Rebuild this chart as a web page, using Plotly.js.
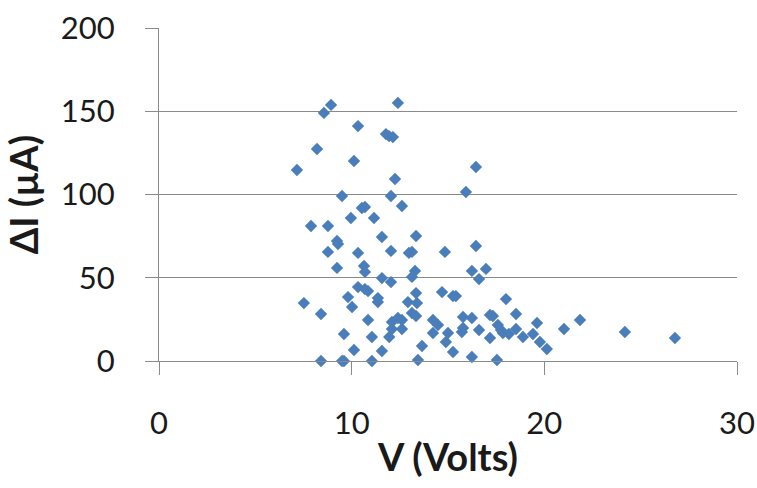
<!DOCTYPE html>
<html>
<head>
<meta charset="utf-8">
<script src="https://cdn.plot.ly/plotly-3.0.1.min.js"></script>
<style>html,body{margin:0;padding:0;background:#fff;}#chart{width:757px;height:488px;}</style>
</head>
<body>
<div id="chart"></div>
<script>
const vVolts = [8.93, 8.56, 10.33, 11.78, 11.94, 12.14, 12.40, 8.20, 10.12, 7.16,
  12.25, 16.45, 15.93, 9.50, 12.04, 12.61, 10.53, 10.69, 9.96, 11.16,
  7.89, 8.77, 11.57, 13.34, 9.24, 9.29, 16.45, 8.77, 10.33, 12.04,
  12.97, 13.13, 14.84, 9.24, 10.64, 10.69, 13.29, 16.24, 16.97, 11.57,
  12.04, 13.13, 16.61, 10.33, 10.69, 10.85, 13.34, 14.69, 15.26, 15.41,
  18.01, 9.81, 11.36, 11.36, 7.52, 10.02, 12.92, 13.39, 8.41, 13.13,
  13.34, 10.85, 12.40, 12.61, 12.09, 14.22, 14.48, 15.78, 16.24, 17.18,
  17.33, 18.53, 19.62, 12.09, 12.61, 14.22, 15.00, 15.72, 15.78, 16.61,
  17.59, 17.75, 17.85, 18.16, 18.53, 18.89, 19.41, 19.77, 20.13, 21.02,
  21.85, 24.18, 26.78, 9.60, 11.05, 11.95, 17.18, 14.89, 13.65, 10.12,
  11.57, 15.26, 16.24, 13.44, 17.54, 8.41, 9.50, 9.60, 11.05];
const dI = [153.8, 149.0, 141.1, 136.3, 135.1, 134.5, 155.0, 127.3, 120.1, 114.7,
  109.3, 116.5, 101.5, 99.1, 99.1, 93.1, 91.9, 92.5, 85.9, 85.9,
  81.1, 81.1, 74.5, 75.1, 72.1, 70.3, 69.1, 65.5, 64.9, 66.1,
  64.9, 65.5, 65.5, 55.9, 57.1, 53.5, 54.1, 54.1, 55.3, 49.8,
  47.4, 50.5, 49.2, 44.4, 43.2, 42.0, 40.8, 41.4, 39.0, 39.0,
  37.2, 38.4, 37.8, 35.4, 34.8, 32.4, 35.4, 34.8, 28.2, 28.8,
  27.0, 24.6, 25.8, 24.6, 23.4, 24.6, 21.6, 26.4, 25.8, 27.6,
  27.0, 28.2, 22.8, 19.2, 19.2, 16.8, 16.8, 17.4, 19.8, 18.6,
  21.6, 18.6, 16.8, 16.2, 19.2, 14.4, 16.2, 11.4, 7.2, 19.2,
  24.6, 17.4, 13.8, 16.2, 14.4, 14.4, 13.8, 11.4, 9.0, 6.6,
  6.0, 5.4, 2.4, 0.6, 0.6, 0, 0, 0, 0];
const xTicks = [0, 10, 20, 30];
const yTicks = [0, 50, 100, 150, 200];

const gray = '#8a8a8a';
const trace = {
  x: vVolts, y: dI, type: 'scatter', mode: 'markers', cliponaxis: false,
  marker: {symbol: 'diamond', size: 9.5, color: '#4a7ebb', line: {width: 0}},
  hoverinfo: 'x+y'
};
const layout = {
  width: 757, height: 488,
  margin: {l: 159, r: 20, t: 28, b: 127},
  paper_bgcolor: '#fff', plot_bgcolor: '#fff',
  showlegend: false,
  font: {family: 'Lato, "Open Sans", sans-serif', color: '#1a1a1a'},
  xaxis: {
    range: [0, 30], tickvals: xTicks, ticktext: xTicks.map(String),
    showgrid: false, zeroline: false,
    showline: true, linecolor: gray, linewidth: 1,
    ticks: 'outside', ticklen: 13, tickcolor: gray, tickwidth: 1,
    tickfont: {size: 31, family: 'Lato, sans-serif', color: '#1a1a1a'},
    ticklabelstandoff: 22,
    title: {text: 'V (Volts)', standoff: 4,
      font: {size: 38, family: 'Lato, sans-serif', weight: 'bold', color: '#1a1a1a'}},
    fixedrange: true
  },
  yaxis: {
    range: [0, 200], tickvals: yTicks, ticktext: yTicks.map(String),
    showgrid: true, gridcolor: gray, gridwidth: 1, zeroline: false,
    showline: true, linecolor: gray, linewidth: 1,
    ticks: 'outside', ticklen: 13, tickcolor: gray, tickwidth: 1,
    tickfont: {size: 31, family: 'Lato, sans-serif', color: '#1a1a1a'},
    ticklabelstandoff: 24,
    title: {text: 'ΔI (µA)', standoff: 10,
      font: {size: 38, family: 'Lato, sans-serif', weight: 'bold', color: '#1a1a1a'}},
    fixedrange: true
  }
};
Plotly.newPlot('chart', [trace], layout, {displayModeBar: false, staticPlot: true});
</script>
</body>
</html>
